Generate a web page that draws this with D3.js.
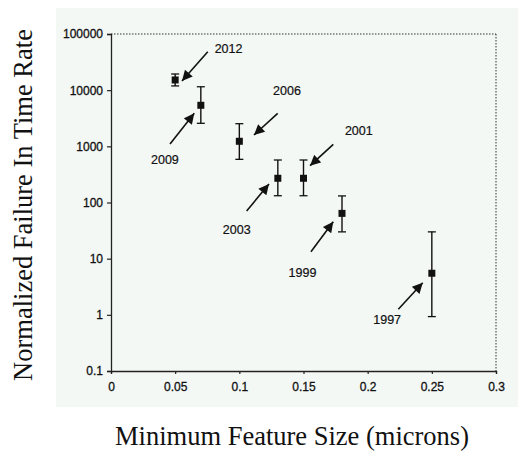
<!DOCTYPE html>
<html>
  <head>
    <meta charset="utf-8">
    <title>FIT rate vs feature size</title>
    <style>
      body { margin: 0; background: #fff; }
      .tick text { font-family: "Liberation Sans", Arial, sans-serif; }
    </style>
  </head>
  <body>
    <div id="container"></div>
    <script src="https://cdn.jsdelivr.net/npm/d3@7"></script>
    <script>
      // data
      var years    = ["1997", "1999", "2001", "2003", "2006", "2009", "2012"];
      var featSize = [0.25, 0.18, 0.15, 0.13, 0.10, 0.07, 0.05];
      var fitRate  = [5.5, 64, 270, 270, 1230, 5380, 15200];
      var fitLow   = [0.93, 30, 132, 132, 587, 2570, 11900];
      var fitHigh  = [30, 131, 571, 571, 2530, 11500, 19400];

      // arrow annotations (data coords): tip, tail, label centre
      var arrowTipX   = [0.2429, 0.1732, 0.1551, 0.1231, 0.1114, 0.0649, 0.0553];
      var arrowTipY   = [3.73, 45.5, 452, 214, 1590, 3870, 14600];
      var arrowTailX  = [0.2239, 0.1558, 0.1732, 0.1057, 0.1299, 0.046, 0.0754];
      var arrowTailY  = [1.26, 13.3, 1087, 70.6, 3870, 1100, 48400];
      var labelX      = [0.2152, 0.1492, 0.1931, 0.098, 0.1371, 0.042, 0.0916];
      var labelY      = [0.83, 5.7, 1900, 32.4, 9660, 571, 55600];

      var xTicks = [0, 0.05, 0.1, 0.15, 0.2, 0.25, 0.3];
      var yTicks = [0.1, 1, 10, 100, 1000, 10000, 100000];

      var width = 518, height = 451;

      var svg = d3.select("#container").append("svg")
        .attr("width", width)
        .attr("height", height);

      var x = d3.scaleLinear().domain([0, 0.3]).range([111, 496]);
      var y = d3.scaleLog().domain([0.1, 100000]).range([371, 34]);

      // pale scanned panel
      svg.append("rect")
        .attr("x", 56).attr("y", 8)
        .attr("width", width - 56).attr("height", 399)
        .style("fill", "#f4f8f5");

      svg.append("defs").append("marker")
        .attr("id", "head")
        .attr("viewBox", "0 0 10 10")
        .attr("refX", 10).attr("refY", 5)
        .attr("markerWidth", 7.5).attr("markerHeight", 6.5)
        .attr("markerUnits", "strokeWidth")
        .attr("orient", "auto")
        .append("path")
        .attr("d", "M0,0 L10,5 L0,10 Z")
        .style("fill", "#111");

      // dotted frame top/right
      svg.append("line")
        .attr("x1", x(0)).attr("x2", x(0.3))
        .attr("y1", y(100000)).attr("y2", y(100000))
        .style("stroke", "#333").style("stroke-dasharray", "1.5,1.5");
      svg.append("line")
        .attr("x1", x(0.3)).attr("x2", x(0.3))
        .attr("y1", y(100000)).attr("y2", y(0.1))
        .style("stroke", "#333").style("stroke-dasharray", "1.5,1.5");

      var xAxis = svg.append("g")
        .attr("transform", "translate(0," + y(0.1) + ")")
        .call(d3.axisBottom(x).tickValues(xTicks).tickSize(3).tickPadding(8)
          .tickFormat(function(d) { return d === 0 ? "0" : d3.format("")(+d.toFixed(2)); }));
      var yAxis = svg.append("g")
        .attr("transform", "translate(" + x(0) + ",0)")
        .call(d3.axisLeft(y).tickValues(yTicks).tickSize(4).tickPadding(4)
          .tickFormat(function(d) { return String(d); }));

      [xAxis, yAxis].forEach(function(g) {
        g.select(".domain").style("stroke", "#222").style("stroke-width", 1.3);
        g.selectAll(".tick line").style("stroke", "#222").style("stroke-width", 1.2);
        g.selectAll(".tick text")
          .style("font-size", "12px")
          .style("fill", "#111")
          .style("stroke", "#111").style("stroke-width", 0.3);
      });

      var pts = years.map(function(yr, i) {
        return {year: yr, x: featSize[i], v: fitRate[i], lo: fitLow[i], hi: fitHigh[i]};
      });

      var bars = svg.append("g").selectAll("g")
        .data(pts).enter().append("g");
      bars.append("line")
        .attr("x1", function(d) { return x(d.x); })
        .attr("x2", function(d) { return x(d.x); })
        .attr("y1", function(d) { return y(d.lo); })
        .attr("y2", function(d) { return y(d.hi); })
        .style("stroke", "#111").style("stroke-width", 1.4);
      ["lo", "hi"].forEach(function(k) {
        bars.append("line")
          .attr("x1", function(d) { return x(d.x) - 4; })
          .attr("x2", function(d) { return x(d.x) + 4; })
          .attr("y1", function(d) { return y(d[k]); })
          .attr("y2", function(d) { return y(d[k]); })
          .style("stroke", "#111").style("stroke-width", 1.3);
      });
      bars.append("rect")
        .attr("x", function(d) { return x(d.x) - 3.5; })
        .attr("y", function(d) { return y(d.v) - 3.5; })
        .attr("width", 7).attr("height", 7)
        .style("fill", "#111");

      // arrows + year labels
      years.forEach(function(yr, i) {
        svg.append("line")
          .attr("x1", x(arrowTailX[i])).attr("y1", y(arrowTailY[i]))
          .attr("x2", x(arrowTipX[i])).attr("y2", y(arrowTipY[i]))
          .attr("marker-end", "url(#head)")
          .style("stroke", "#111").style("stroke-width", 1.6);
        svg.append("text")
          .attr("x", x(labelX[i])).attr("y", y(labelY[i]))
          .attr("dy", "0.35em")
          .attr("text-anchor", "middle")
          .style("font-family", "Liberation Sans, Arial, sans-serif")
          .style("font-size", "12.5px")
          .style("fill", "#111")
          .style("stroke", "#111").style("stroke-width", 0.2)
          .text(yr);
      });

      // axis titles
      svg.append("text")
        .attr("x", 292).attr("y", 445)
        .attr("text-anchor", "middle")
        .style("font-family", "Liberation Serif, Times New Roman, serif")
        .style("font-size", "26.5px")
        .style("fill", "#111")
        .text("Minimum Feature Size (microns)");
      svg.append("text")
        .attr("transform", "translate(32,205) rotate(-90)")
        .attr("text-anchor", "middle")
        .style("font-family", "Liberation Serif, Times New Roman, serif")
        .style("font-size", "26.5px")
        .style("fill", "#111")
        .text("Normalized Failure In Time Rate");
    </script>
  </body>
</html>
